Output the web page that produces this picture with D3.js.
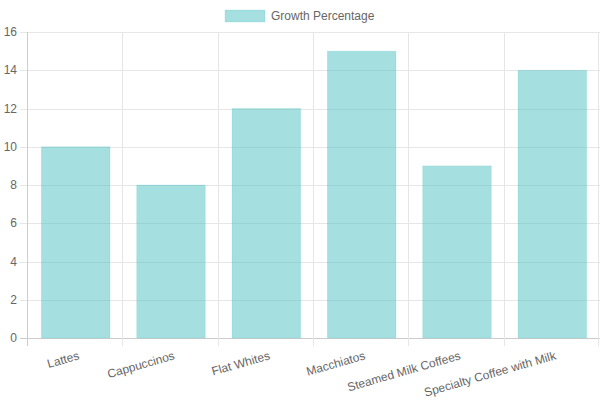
<!DOCTYPE html>
<html>
<head>
<meta charset="utf-8">
<script src="https://cdn.jsdelivr.net/npm/d3@7"></script>
<style>
  body { margin: 0; background: white; }
  text { font-family: "Liberation Sans", Arial, sans-serif; font-size: 12px; fill: #666; }
</style>
</head>
<body>
<script>
    const categories = ["Lattes", "Cappuccinos", "Flat Whites", "Macchiatos", "Steamed Milk Coffees", "Specialty Coffee with Milk"];
    const growth = [10, 8, 12, 15, 9, 14];
    const yTicks = [0, 2, 4, 6, 8, 10, 12, 14, 16];
    const seriesName = "Growth Percentage";

    const plotLeft = 28, plotRight = 600, plotTop = 32, plotBottom = 338;

    let svg = d3.select('body')
        .append('svg')
        .attr('width', 600)
        .attr('height', 400)

    let xScale = d3.scaleBand()
        .domain(categories)
        .range([plotLeft, plotRight])

    let yScale = d3.scaleLinear()
        .domain([0, 16])
        .range([plotBottom, plotTop])

    // horizontal grid
    svg.append('g')
        .selectAll('line')
        .data(yTicks)
        .join('line')
        .attr('x1', plotLeft - 8)
        .attr('x2', plotRight)
        .attr('y1', d => Math.round(yScale(d)) + 0.5)
        .attr('y2', d => Math.round(yScale(d)) + 0.5)
        .attr('stroke', d => d == 0 ? '#cccccc' : '#e6e6e6')

    // vertical grid
    let xEdges = categories.map(c => xScale(c)).concat([plotRight - 1])
    svg.append('g')
        .selectAll('line')
        .data(xEdges)
        .join('line')
        .attr('x1', d => Math.round(d) - 0.5)
        .attr('x2', d => Math.round(d) - 0.5)
        .attr('y1', plotTop)
        .attr('y2', plotBottom + 8)
        .attr('stroke', (d, i) => i == 0 ? '#cccccc' : '#e6e6e6')

    // y tick labels
    svg.append('g')
        .selectAll('text')
        .data(yTicks)
        .join('text')
        .attr('x', plotLeft - 11)
        .attr('y', d => yScale(d))
        .attr('dy', '0.35em')
        .attr('text-anchor', 'end')
        .text(d => d)

    // bars
    let barW = xScale.bandwidth() * 0.72
    svg.append('g')
        .selectAll('rect')
        .data(growth)
        .join('rect')
        .attr('x', (d, i) => xScale(categories[i]) + (xScale.bandwidth() - barW) / 2)
        .attr('y', d => yScale(d))
        .attr('width', barW)
        .attr('height', d => plotBottom - yScale(d))
        .attr('fill', 'rgba(75,192,192,0.5)')
        .attr('stroke', 'rgba(75,192,192,0.15)')

    // x labels, rotated
    svg.append('g')
        .selectAll('text')
        .data(categories)
        .join('text')
        .attr('text-anchor', 'end')
        .attr('transform', d => 'translate(' + (xScale(d) + xScale.bandwidth() / 2 + 2) + ',' + (plotBottom + 13) + ') rotate(-16)')
        .attr('dy', '0.7em')
        .text(d => d)

    // legend
    svg.append('rect')
        .attr('x', 225)
        .attr('y', 10)
        .attr('width', 40)
        .attr('height', 12)
        .attr('fill', 'rgba(75,192,192,0.5)')
        .attr('stroke', 'rgba(75,192,192,0.15)')

    svg.append('text')
        .attr('x', 271)
        .attr('y', 16)
        .attr('dy', '0.35em')
        .text(seriesName)
</script>
</body>
</html>
